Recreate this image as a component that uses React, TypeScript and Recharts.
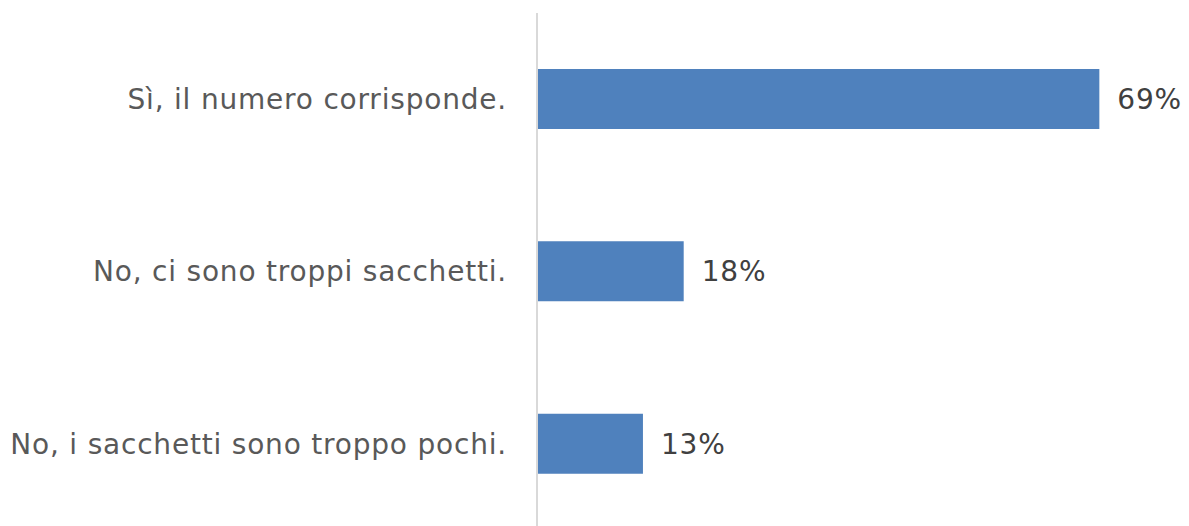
import { BarChart, Bar, XAxis, YAxis, LabelList } from 'recharts';

const categories = [
  'Sì, il numero corrisponde.',
  'No, ci sono troppi sacchetti.',
  'No, i sacchetti sono troppo pochi.',
];
const shares = [69, 18, 13];

const data = categories.map((name, i) => ({ name, value: shares[i] }));

export default function App() {
  return (
    <div style={{ position: 'absolute', left: 0, top: 0, width: 1189, height: 526, overflow: 'hidden', background: '#fff' }}>
      <BarChart
        width={1189}
        height={530}
        data={data}
        layout="vertical"
        margin={{ top: 13, right: 0, bottom: 0, left: 0 }}
        barCategoryGap={56}
      >
        <XAxis type="number" domain={[0, 80]} hide />
        <YAxis
          type="category"
          dataKey="name"
          width={537}
          axisLine={{ stroke: '#d9d9d9', strokeWidth: 2 }}
          tickLine={false}
          tickSize={0}
          tickMargin={30}
          tick={{ fill: '#595959', fontSize: 28, fontFamily: 'DejaVu Sans', letterSpacing: 0.8 }}
        />
        <Bar dataKey="value" fill="#4f81bd" isAnimationActive={false}>
          <LabelList
            dataKey="value"
            position="right"
            offset={18}
            formatter={(v: number) => `${v}%`}
            style={{ fill: '#404040', fontSize: 28, fontFamily: 'DejaVu Sans', letterSpacing: 0.8 }}
          />
        </Bar>
      </BarChart>
    </div>
  );
}
